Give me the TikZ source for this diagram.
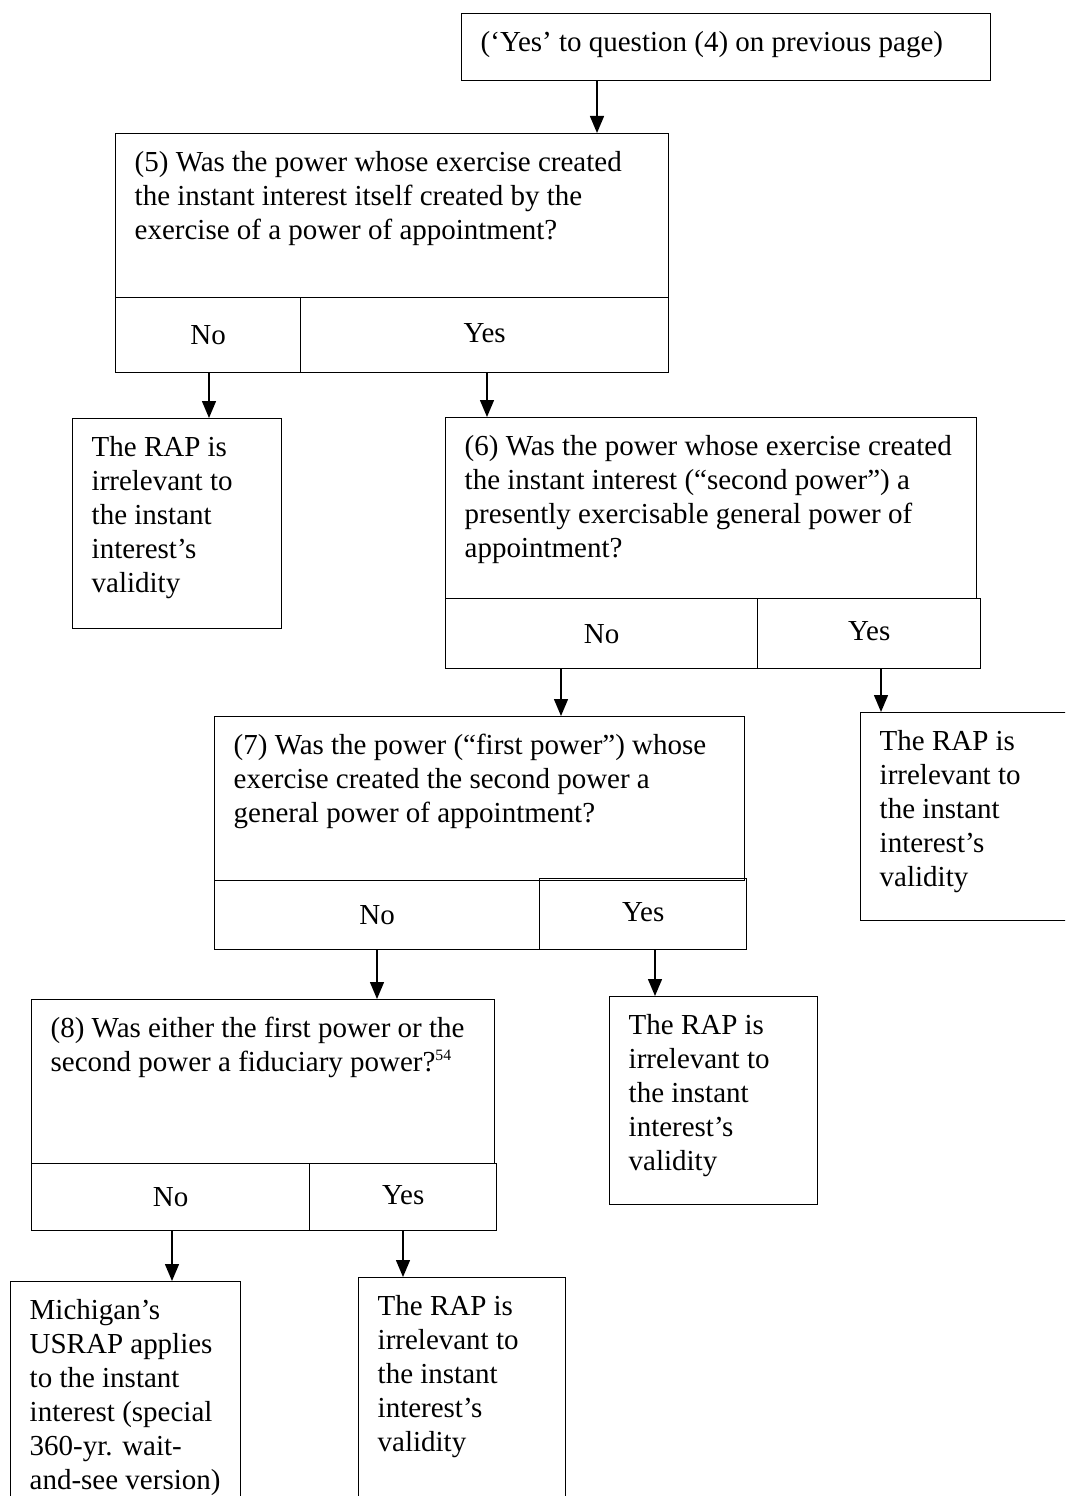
\documentclass[tikz,border=0pt]{standalone}
\usepackage{fontspec}
\setmainfont{Liberation Serif}
\usetikzlibrary{positioning,arrows.meta}

\tikzset{
  box/.style={draw, line width=0.8pt, anchor=north west, inner xsep=0.38cm, inner ysep=0.28cm,
    font=\fontsize{16.5}{19.35}\selectfont},
  ans/.style={draw, line width=0.8pt, anchor=north west, inner sep=0pt,
    font=\fontsize{16.5}{19.35}\selectfont},
  arr/.style={line width=0.8pt, -{Triangle[length=0.34cm,width=0.28cm]}}
}

\begin{document}
\begin{tikzpicture}[x=0.02cm, y=-0.02cm]
\useasboundingbox (0,0) rectangle (1065,1496);
\clip (0,0) rectangle (1065,1496);
\fill[white] (0,0) rectangle (1065,1496);

% start
\node[box] (start) at (461,13) {\parbox[c][0.78cm][t]{9.82cm}{\strut (`Yes' to question (4) on previous page)}};

% question 5
\node[box] (q5) at (115,133) {\parbox[c][2.72cm][t]{10.30cm}{\strut (5) Was the power whose exercise created\\
the instant interest itself created by the\\
exercise of a power of appointment?}};
\node[ans, minimum width=3.7cm, minimum height=1.5cm] (q5no) at (115,297) {No};
\node[ans, minimum width=7.36cm, minimum height=1.5cm] (q5yes) at (300,297) {\raisebox{3pt}{Yes}};

\node[box] (leafa) at (72,418) {\parbox[c][3.64cm][t]{3.42cm}{\strut The RAP is\\ irrelevant to\\ the instant\\ interest's\\ validity}};

% question 6
\node[box] (q6) at (445,417) {\parbox[c][3.06cm][t]{9.86cm}{\strut (6) Was the power whose exercise created\\
the instant interest (``second power'') a\\
presently exercisable general power of\\
appointment?}};
\node[ans, minimum width=6.24cm, minimum height=1.4cm] (q6no) at (445,598) {No};
\node[ans, minimum width=4.46cm, minimum height=1.4cm] (q6yes) at (757,598) {\raisebox{3pt}{Yes}};

\node[box] (leafb) at (860,712) {\parbox[c][3.6cm][t]{3.84cm}{\strut The RAP is\\ irrelevant to\\ the instant\\ interest's\\ validity}};

% question 7
\node[box] (q7) at (214,716) {\parbox[c][2.72cm][t]{9.84cm}{\strut (7) Was the power (``first power'') whose\\
exercise created the second power a\\
general power of appointment?}};
\node[ans, minimum width=6.5cm, minimum height=1.38cm] (q7no) at (214,880) {No};
\node[ans, minimum width=4.14cm, minimum height=1.42cm] (q7yes) at (539,878) {\raisebox{3pt}{Yes}};

\node[box] (leafc) at (609,996) {\parbox[c][3.6cm][t]{3.4cm}{\strut The RAP is\\ irrelevant to\\ the instant\\ interest's\\ validity}};

% question 8
\node[box] (q8) at (31,999) {\parbox[c][2.72cm][t]{8.5cm}{\strut (8) Was either the first power or the\\
second power a fiduciary power?\textsuperscript{\fontsize{9}{9}\selectfont 54}}};
\node[ans, minimum width=5.56cm, minimum height=1.34cm] (q8no) at (31,1163) {No};
\node[ans, minimum width=3.74cm, minimum height=1.34cm] (q8yes) at (309,1163) {\raisebox{3pt}{Yes}};

\node[box] (leafd) at (10,1281) {\parbox[c][5.44cm][t]{3.84cm}{\strut Michigan's\\ USRAP applies\\ to the instant\\ interest (special\\ 360-yr. wait-\\ and-see version)}};
\node[box] (leafe) at (358,1277) {\parbox[c][5.44cm][t]{3.38cm}{\strut The RAP is\\ irrelevant to\\ the instant\\ interest's\\ validity}};

% arrows
\draw[arr] (597,0 |- start.south) -- (597,0 |- q5.north);
\draw[arr] (209,0 |- q5no.south) -- (209,0 |- leafa.north);
\draw[arr] (487,0 |- q5yes.south) -- (487,0 |- q6.north);
\draw[arr] (561,0 |- q6no.south) -- (561,0 |- q7.north);
\draw[arr] (881,0 |- q6yes.south) -- (881,0 |- leafb.north);
\draw[arr] (377,0 |- q7no.south) -- (377,0 |- q8.north);
\draw[arr] (655,0 |- q7yes.south) -- (655,0 |- leafc.north);
\draw[arr] (172,0 |- q8no.south) -- (172,0 |- leafd.north);
\draw[arr] (403,0 |- q8yes.south) -- (403,0 |- leafe.north);

\end{tikzpicture}
\end{document}
